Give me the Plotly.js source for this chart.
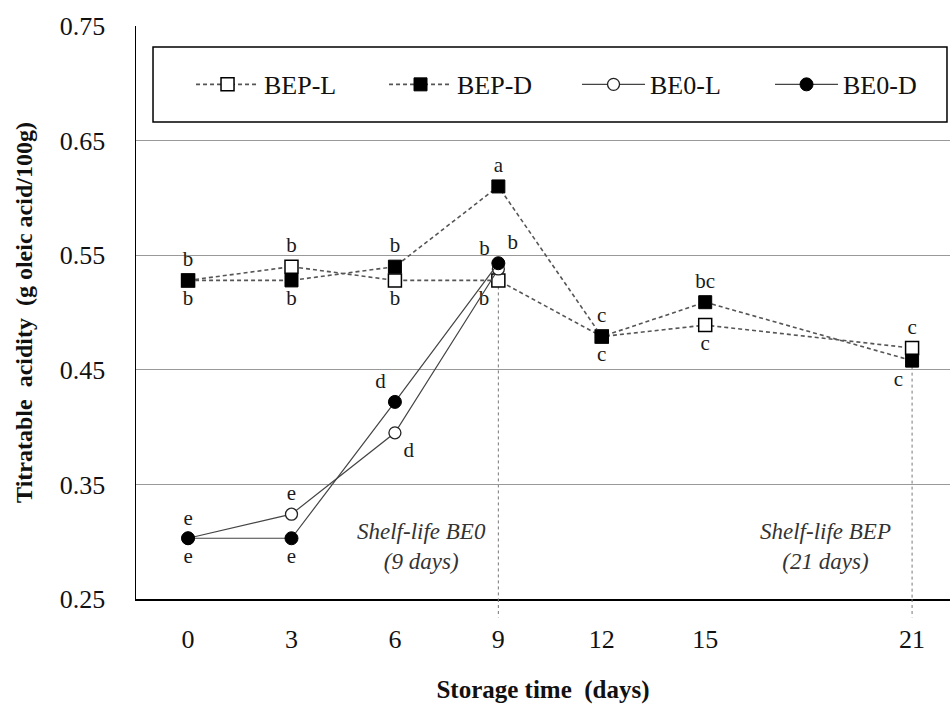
<!DOCTYPE html>
<html>
<head>
<meta charset="utf-8">
<script src="https://cdn.plot.ly/plotly-3.0.1.min.js"></script>
<style>html,body{margin:0;padding:0;background:#fff;}#chart{width:950px;height:717px;}</style>
</head>
<body>
<div id="chart"></div>
<script>
// ---- data ----
var days = [0, 3, 6, 9, 12, 15, 21];
var daysBE0 = [0, 3, 6, 9];
var bepL = [0.528, 0.540, 0.528, 0.528, 0.479, 0.489, 0.469];
var bepD = [0.528, 0.528, 0.540, 0.610, 0.479, 0.509, 0.458];
var be0L = [0.303, 0.324, 0.395, 0.538];
var be0D = [0.303, 0.303, 0.422, 0.543];
var bepLLetters = ['b', 'b', 'b', 'b', 'c', 'c', 'c'];
var bepDLetters = ['b', 'b', 'b', 'a', 'c', 'bc', 'c'];
var be0LLetters = ['e', 'e', 'd', 'b'];
var be0DLetters = ['e', 'e', 'd', 'b'];
var tickVals = [0, 3, 6, 9, 12, 15, 21];
var yTicks = [0.25, 0.35, 0.45, 0.55, 0.65, 0.75];
var shelfLifeBE0 = 9, shelfLifeBEP = 21;

var serif = "'Liberation Serif', 'Times New Roman', Times, 'DejaVu Serif', serif";
var letterFont = {family: serif, size: 21, color: '#1a1a1a'};

var traces = [
  {
    name: 'BEP-L', x: days, y: bepL, mode: 'lines+markers+text',
    line: {color: '#555', width: 1.6, dash: '4px,3px'},
    marker: {symbol: 'square', size: 13, color: '#fff', line: {color: '#000', width: 1.5}},
    text: bepLLetters,
    textposition: ['bottom center', 'top center', 'bottom center', 'bottom left', 'top center', 'bottom center', 'top center'],
    textfont: letterFont, cliponaxis: false
  },
  {
    name: 'BEP-D', x: days, y: bepD, mode: 'lines+markers+text',
    line: {color: '#555', width: 1.6, dash: '4px,3px'},
    marker: {symbol: 'square', size: 13, color: '#000', line: {color: '#000', width: 1}},
    text: bepDLetters,
    textposition: ['top center', 'bottom center', 'top center', 'top center', 'bottom center', 'top center', 'bottom left'],
    textfont: letterFont, cliponaxis: false
  },
  {
    name: 'BE0-L', x: daysBE0, y: be0L, mode: 'lines+markers+text',
    line: {color: '#444', width: 1.2},
    marker: {symbol: 'circle', size: 12, color: '#fff', line: {color: '#222', width: 1.3}},
    text: be0LLetters,
    textposition: ['top center', 'top center', 'bottom right', 'top left'],
    textfont: letterFont, cliponaxis: false
  },
  {
    name: 'BE0-D', x: daysBE0, y: be0D, mode: 'lines+markers+text',
    line: {color: '#444', width: 1.2},
    marker: {symbol: 'circle', size: 13, color: '#000', line: {color: '#000', width: 1}},
    text: be0DLetters,
    textposition: ['bottom center', 'bottom center', 'top left', 'top right'],
    textfont: letterFont, cliponaxis: false
  }
];

var layout = {
  width: 950, height: 717,
  margin: {l: 136, r: 0, t: 26, b: 118, autoexpand: false},
  paper_bgcolor: '#fff', plot_bgcolor: '#fff',
  font: {family: serif, color: '#111'},
  showlegend: true,
  legend: {
    orientation: 'h', x: 0.5418, y: 0.898, xanchor: 'center', yanchor: 'middle',
    entrywidth: 115, entrywidthmode: 'pixels', itemwidth: 63,
    bgcolor: 'rgba(0,0,0,0)', borderwidth: 0,
    font: {family: serif, size: 26, color: '#111'}
  },
  xaxis: {
    range: [-1.51, 22.1], tickvals: tickVals, ticktext: tickVals.map(String),
    showgrid: false, zeroline: false, showline: true, linecolor: '#000', linewidth: 1.5,
    ticks: '', ticklabelstandoff: 16,
    tickfont: {family: serif, size: 26, color: '#111'},
    title: {text: '<b>Storage time  (days)</b>', font: {family: serif, size: 25, color: '#111'}, standoff: 28}
  },
  yaxis: {
    range: [0.25, 0.75], tickvals: yTicks, tickformat: '.2f',
    showgrid: true, gridcolor: '#999', gridwidth: 1.3,
    zeroline: false, showline: true, linecolor: '#000', linewidth: 1.5,
    ticks: '', ticklabelstandoff: 24,
    tickfont: {family: serif, size: 26, color: '#111'},
    title: {text: '<b>Titratable  acidity  (g oleic acid/100g)</b>', font: {family: serif, size: 24, color: '#111'}, standoff: 20}
  },
  shapes: [
    {type: 'rect', xref: 'paper', yref: 'paper', x0: 0.0209, x1: 0.9963, y0: 0.8325, y1: 0.9634,
     line: {color: '#000', width: 1.5}, fillcolor: '#fff', layer: 'below'},
    {type: 'line', xref: 'x', yref: 'y', x0: shelfLifeBE0, x1: shelfLifeBE0, y0: bepL[3], y1: 0.25,
     line: {color: '#777', width: 1, dash: 'dot'}, layer: 'below'},
    {type: 'line', xref: 'x', yref: 'y domain', x0: shelfLifeBE0, x1: shelfLifeBE0, y0: 0, y1: -0.032,
     line: {color: '#777', width: 1, dash: 'dot'}},
    {type: 'line', xref: 'x', yref: 'y', x0: shelfLifeBEP, x1: shelfLifeBEP, y0: bepD[6], y1: 0.25,
     line: {color: '#777', width: 1, dash: 'dot'}, layer: 'below'},
    {type: 'line', xref: 'x', yref: 'y domain', x0: shelfLifeBEP, x1: shelfLifeBEP, y0: 0, y1: -0.032,
     line: {color: '#777', width: 1, dash: 'dot'}}
  ],
  annotations: [
    {xref: 'x', yref: 'y', x: 6.76, y: 0.2955, text: 'Shelf-life BE0<br>(9 days)', showarrow: false,
     font: {family: serif, size: 23, color: '#333', style: 'italic'}, align: 'center'},
    {xref: 'x', yref: 'y', x: 18.48, y: 0.2955, text: 'Shelf-life BEP<br>(21 days)', showarrow: false,
     font: {family: serif, size: 23, color: '#333', style: 'italic'}, align: 'center'}
  ]
};

Plotly.newPlot('chart', traces, layout, {displayModeBar: false, staticPlot: true});
</script>
</body>
</html>
